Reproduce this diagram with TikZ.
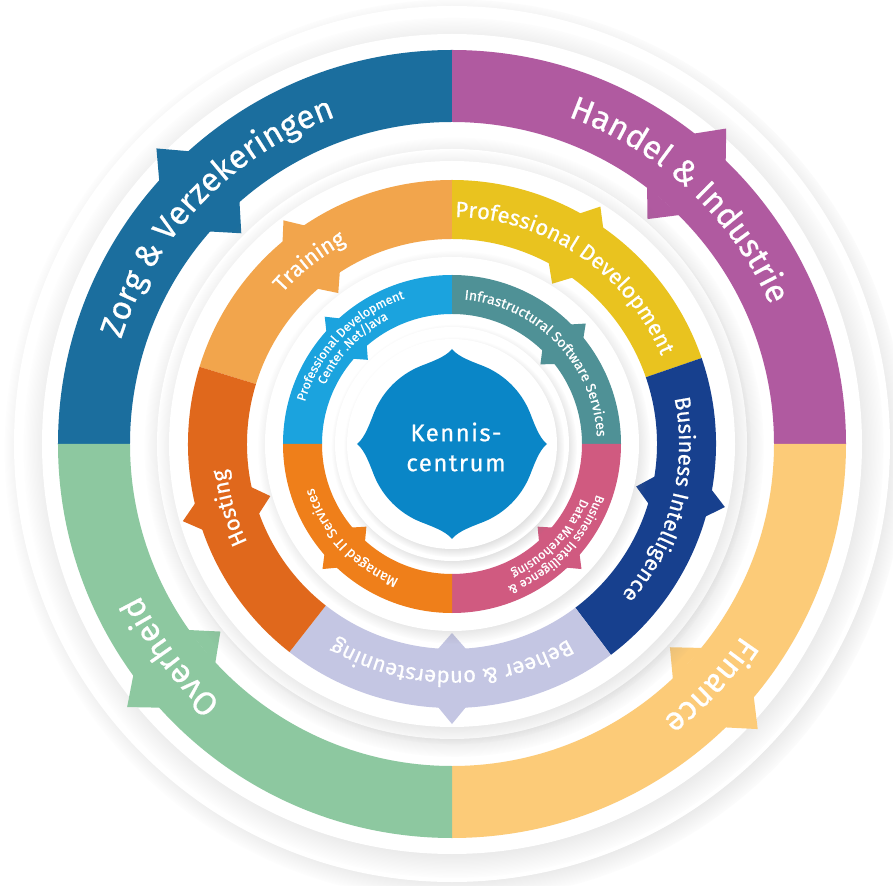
\documentclass[tikz,border=0pt]{standalone}
\usepackage{fontspec}
\newfontfamily\ringfont[FakeBold=0.6]{Fira Sans}
\newfontfamily\kcfont[LetterSpace=6,FakeBold=0.6]{Fira Sans}
\usetikzlibrary{decorations.text,shadows}

\definecolor{zorg}{HTML}{1B6E9E}
\definecolor{handel}{HTML}{B05AA0}
\definecolor{finance}{HTML}{FCCB78}
\definecolor{overheid}{HTML}{8DC8A0}
\definecolor{training}{HTML}{F2A54C}
\definecolor{profdev}{HTML}{E9C31F}
\definecolor{bizint}{HTML}{17408E}
\definecolor{beheer}{HTML}{C4C6E3}
\definecolor{hosting}{HTML}{E0681C}
\definecolor{pdcnet}{HTML}{1BA3DE}
\definecolor{infra}{HTML}{4F9196}
\definecolor{bidwh}{HTML}{D05A80}
\definecolor{managed}{HTML}{EF7F1A}
\definecolor{kennis}{HTML}{0A86C7}

% ring segment: start angle, end angle, inner r, outer r, colour
\newcommand\ringseg[5]{%
  \fill[#5] (#1:#4pt) arc[start angle=#1, end angle=#2, radius=#4pt]
    -- (#2:#3pt) arc[start angle=#2, end angle=#1, radius=#3pt] -- cycle;}

% arrow tab on a ring: angle, inner r, outer r, height, colour
\newcommand\ringtab[5]{%
  \pgfmathsetmacro\tabwo{0.9*#4/#3*57.3}%
  \pgfmathsetmacro\tabwi{0.9*#4/#2*57.3}%
  \fill[#5] (#1+\tabwo:#3pt-1pt) -- (#1:#3pt+#4pt) -- (#1-\tabwo:#3pt-1pt) -- cycle;
  \fill[#5] (#1+\tabwi:#2pt+1pt) -- (#1:#2pt-#4pt) -- (#1-\tabwi:#2pt+1pt) -- cycle;}

% label along a ring, read clockwise: centre angle, baseline r, size, text
\newcommand\ringlabel[4]{%
  \pgfmathsetmacro\lbls{#1+89}%
  \pgfmathsetmacro\lble{#1-89}%
  \path[decorate, decoration={text along path, text align=center, text color=white,
      text={|\ringfont\fontsize{#3}{#3}\selectfont|#4}}]
    (\lbls:#2pt) arc[start angle=\lbls, end angle=\lble, radius=#2pt];}

\begin{document}
\begin{tikzpicture}[
  plateau/.style={fill=white, circular drop shadow={shadow xshift=4pt, shadow yshift=-5pt, shadow scale=1.03, opacity=.5}},
  ridge/.style={fill=white, circular drop shadow={shadow xshift=2pt, shadow yshift=-3pt, shadow scale=1.05, opacity=.4}},
  kc text/.style={text=white, align=center, font=\kcfont\fontsize{24}{30}\selectfont}
]
\useasboundingbox (-452pt,-441pt) rectangle (441pt,444pt);
\fill[white] (-452pt,-441pt) rectangle (441pt,444pt);
%
\path[plateau] (0,0) circle (438pt);
\path[ridge] (0,0) circle (410pt);
%
% sectors
\ringseg{90}{180}{322}{394}{zorg}
\ringseg{0}{90}{322}{394}{handel}
\ringseg{-90}{0}{322}{394}{finance}
\ringseg{180}{270}{322}{394}{overheid}
\ringtab{135}{322}{394}{24}{zorg}
\ringtab{49}{322}{394}{24}{handel}
\ringtab{-43}{322}{394}{24}{finance}
\ringtab{219}{322}{394}{24}{overheid}
\ringlabel{136}{347}{33}{Zorg {\&} Verzekeringen}
\ringlabel{47}{347}{33}{Handel {\&} Industrie}
\ringlabel{-43}{347}{33}{Finance}
\ringlabel{217}{347}{33}{Overheid}
%
\path[ridge] (0,0) circle (295pt);
\path[ridge] (0,0) circle (283pt);
%
% services
\ringseg{90}{163}{205}{264}{training}
\ringseg{19}{90}{205}{264}{profdev}
\ringseg{-53}{19}{205}{264}{bizint}
\ringseg{-128}{-53}{205}{264}{beheer}
\ringseg{163}{232}{205}{264}{hosting}
\ringtab{127}{205}{264}{16}{training}
\ringtab{58}{205}{264}{16}{profdev}
\ringtab{-13}{205}{264}{16}{bizint}
\ringtab{-90}{205}{264}{16}{beheer}
\ringtab{196}{205}{264}{16}{hosting}
\ringlabel{128}{227}{22}{Training}
\ringlabel{56}{227}{22}{Professional Development}
\ringlabel{-15}{227}{22}{Business Intelligence}
\ringlabel{-90}{227}{22}{Beheer {\&} ondersteuning}
\ringlabel{196}{227}{22}{Hosting}
%
\path[ridge] (0,0) circle (187pt);
%
% competence centres
\ringseg{90}{180}{130}{169}{pdcnet}
\ringseg{0}{90}{130}{169}{infra}
\ringseg{-90}{0}{130}{169}{bidwh}
\ringseg{180}{270}{130}{169}{managed}
\ringtab{135}{130}{169}{11}{pdcnet}
\ringtab{42}{130}{169}{11}{infra}
\ringtab{-44}{130}{169}{11}{bidwh}
\ringtab{224}{130}{169}{11}{managed}
\ringlabel{136}{153}{12.5}{Professional Development}
\ringlabel{136}{140}{12.5}{Center .Net/Java}
\ringlabel{44}{145}{14}{Infrastructural Software Services}
\ringlabel{-44}{153}{12.5}{Business Intelligence {\&}}
\ringlabel{-44}{140}{12.5}{Data Warehousing}
\ringlabel{223}{145}{14}{Managed IT Services}
%
\path[ridge] (0,0) circle (117pt);
\path[ridge] (0,0) circle (105pt);
%
% centre
\fill[kennis] (0:95pt) \foreach \b [evaluate=\b as \bs using \b+22,
    evaluate=\b as \be using \b+68] in {0,90,180,270} {
  .. controls (\b+3.9:87.2pt) and (\b+15.2:84.6pt) .. (\bs:84pt)
  arc[start angle=\bs, end angle=\be, radius=84pt]
  .. controls (\b+74.8:84.6pt) and (\b+86.1:87.2pt) .. (\b+90:95pt)
} -- cycle;
\node[kc text] (kc) at (4pt,-3pt) {Kennis-\\centrum};
\end{tikzpicture}
\end{document}
